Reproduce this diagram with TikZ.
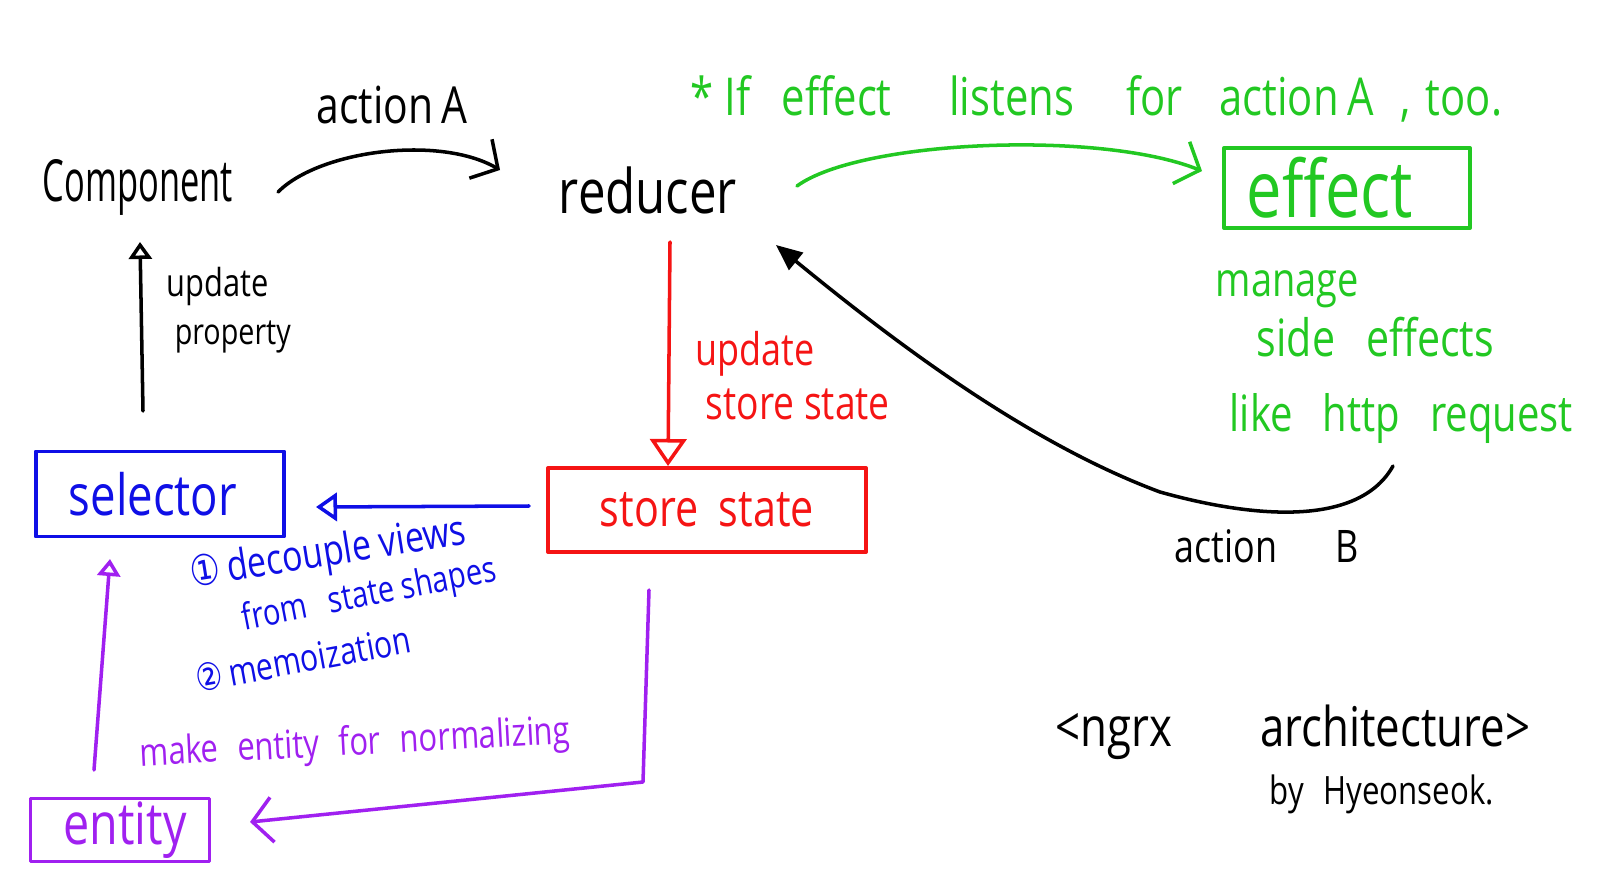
\documentclass[tikz,border=0pt]{standalone}
\usepackage{fontspec}
\setmainfont{Open Sans}[FakeStretch=0.8]
\newfontfamily\symfont{DejaVu Sans}[FakeStretch=0.8]
\usepackage{graphicx}
\usetikzlibrary{arrows.meta,calc}
\definecolor{hgreen}{RGB}{34,200,34}
\definecolor{hred}{RGB}{245,20,20}
\definecolor{hblue}{RGB}{15,15,230}
\definecolor{hpurple}{RGB}{160,32,240}
\newcommand\tw[2]{\resizebox{#1}{!}{#2}}
\newcommand\twh[3]{\resizebox{#1}{#2}{#3}}
\begin{document}
\begin{tikzpicture}[x=0.01cm,y=-0.01cm,line width=1pt,line cap=round,line join=round,
  lbl/.style={inner sep=0pt,anchor=west},
  ctr/.style={inner sep=0pt},
  hbox/.style={draw,line width=1.1pt,inner sep=0pt},
  barb/.style={-{Straight Barb[length=2mm,width=4.5mm]}},
  opentri/.style={-{Triangle[open,length=#1,width=1.35*#1]}},
  filltri/.style={-{Triangle[length=2.6mm,width=2.2mm]}}]
\useasboundingbox (0,0) rectangle (1600,891);

% main nodes
\node[ctr] (comp) at (138,187) {\twh{1.90cm}{0.42cm}{Component}};
\node[ctr] (reducer) at (648,190) {\tw{1.78cm}{reducer}};
\node[hbox,hgreen,minimum width=2.46cm,minimum height=0.80cm] (effect) at (1347,188) {\tw{1.66cm}{effect}\hspace*{0.34cm}};
\node[hbox,hred,minimum width=3.18cm,minimum height=0.84cm] (store) at (707,510) {\tw{2.14cm}{store\hspace{0.4em}state}};
\node[hbox,hblue,minimum width=2.48cm,minimum height=0.85cm] (selector) at (160,494) {\tw{1.68cm}{selector}\hspace*{0.14cm}};
\node[hbox,hpurple,minimum width=1.79cm,minimum height=0.63cm] (entity) at (120,830) {\hspace*{0.1cm}\tw{1.23cm}{entity}};

% labels
\node[ctr] (actA) at (392,105) {\tw{1.51cm}{action\,A}};
\node[lbl,hgreen] (note) at (689,99) {\tw{8.11cm}{*~If\hspace{0.6em}effect\hspace{1.1em}listens\hspace{1em}for\hspace{0.7em}action\,A\hspace{0.5em},\hspace{0.3em}too.}};
\node[lbl] (upd1) at (165,286) {\tw{1.02cm}{update}};
\node[lbl] (upd2) at (173,337) {\tw{1.16cm}{property}};
\node[lbl,hred] (rupd1) at (694,354) {\tw{1.19cm}{update}};
\node[lbl,hred] (rupd2) at (704,404) {\tw{1.84cm}{store state}};
\node[lbl,hgreen] (g1) at (1214,289) {\tw{1.43cm}{manage}};
\node[lbl,hgreen] (g2) at (1255,337) {\tw{2.37cm}{side\hspace{0.6em}effects}};
\node[lbl,hgreen] (g3) at (1228,418) {\tw{3.43cm}{like\hspace{0.6em}http\hspace{0.6em}request}};
\node[lbl] (actB) at (1173,546) {\tw{1.84cm}{action\hspace{1.3em}B}};
\node[lbl,hblue,rotate=9] (b1) at (189,577) {\tw{2.78cm}{{\symfont ①}\,decouple views}};
\node[lbl,hblue,rotate=11] (b2) at (241,621) {\tw{2.58cm}{from\hspace{0.6em}state shapes}};
\node[lbl,hblue,rotate=10.5] (b3) at (194,679) {\tw{2.18cm}{{\symfont ②}\,memoization}};
\node[lbl,hpurple,rotate=3] (p1) at (138,756) {\tw{4.31cm}{make\hspace{0.5em}entity\hspace{0.5em}for\hspace{0.5em}normalizing}};
\node[lbl] (title) at (1054,732) {\tw{4.74cm}{<ngrx\hspace{1.6em}architecture>}};
\node[lbl] (by) at (1268,794) {\tw{2.24cm}{by\hspace{0.5em}Hyeonseok.}};

% connectors
\draw[barb] ($(comp)+(140,5)$) .. controls (320,150) and (440,135) .. ($(reducer)+(-148,-20)$);
\draw[barb,hgreen] ($(reducer)+(149,-4)$) .. controls (860,140) and (1100,130) .. ($(effect)+(-145,-17)$);
\coordinate (bstart) at (1393,466);
\coordinate (bmid) at (1160,492);
\draw[filltri] (bstart) .. controls (1360,525) and (1260,520) .. (bmid)
  .. controls (1020,440) and (880,330) .. ($(reducer)+(128,55)$);
\draw[opentri=2.7mm,hred] ($(reducer)+(22,52)$) -- ($(store)+(-39,-44)$);
\draw[opentri=2.1mm,hblue] ($(store)+(-178,-4)$) -- ($(selector)+(156,13)$);
\draw[opentri=1.7mm] ($(selector)+(-17,-83)$) -- ($(comp)+(2,55)$);
\coordinate (pbend) at (643,782);
\draw[barb,hpurple] ($(store)+(-58,80)$) -- (pbend) -- ($(entity)+(130,-8)$);
\draw[opentri=1.7mm,hpurple] ($(entity)+(-26,-60)$) -- ($(selector)+(-50,65)$);
\end{tikzpicture}
\end{document}
